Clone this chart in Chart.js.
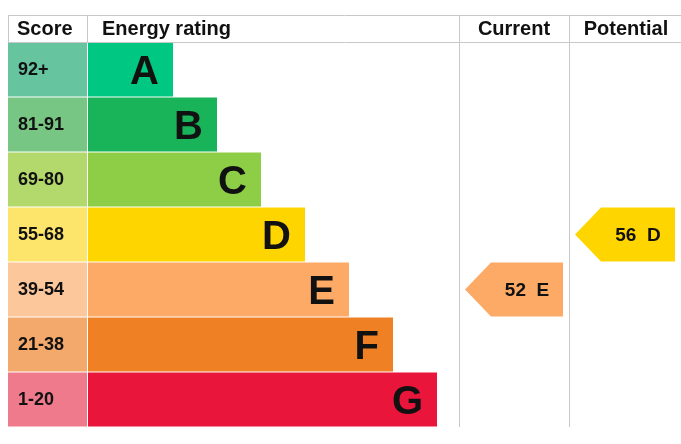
<!DOCTYPE html>
<html><head><meta charset="utf-8">
<script src="https://cdn.jsdelivr.net/npm/chart.js@4"></script>
<style>html,body{margin:0;padding:0;background:#fff}#w{width:681px;height:444px}</style>
</head><body><div id="w"><canvas id="c"></canvas></div>
<script>
const bands = ['A','B','C','D','E','F','G'];
const scoreRanges = ['92+','81-91','69-80','55-68','39-54','21-38','1-20'];
const bandMin = [92,81,69,55,39,21,1];
const barEnds = [165,209,253,297,341,385,429];
const scoreColors = ['#66c59f','#78c684','#b3d86b','#fde56c','#fcc79b','#f4a96c','#ef7a8c'];
const barColors = ['#00c781','#19b459','#8dce46','#ffd500','#fcaa65','#ef8023','#e9153b'];
const currentScore = 52;
const potentialScore = 56;
const colStart = 80, scoreEnd = 79;
const currentCol = [451, 561], potentialCol = [561, 673];

function bandIndex(s){ for(let i=0;i<bandMin.length;i++) if(s>=bandMin[i]) return i; return 6; }
const F = '"Liberation Sans", Arial, sans-serif';

const plug = {
  id:'epc',
  afterDatasetsDraw(ch){
    const ctx=ch.ctx, x=ch.scales.x, y=ch.scales.y;
    const top=15, hb=y.getPixelForValue(0)-27.5, bottom=ch.chartArea.bottom;
    ctx.save();
    ctx.strokeStyle='#c8c8c8'; ctx.lineWidth=1;
    ctx.beginPath();
    ctx.moveTo(x.getPixelForValue(0),top+0.5); ctx.lineTo(681,top+0.5);
    ctx.moveTo(x.getPixelForValue(0),hb+0.5); ctx.lineTo(681,hb+0.5);
    ctx.moveTo(x.getPixelForValue(0)+0.5,top); ctx.lineTo(x.getPixelForValue(0)+0.5,hb);
    ctx.moveTo(x.getPixelForValue(scoreEnd)+0.5,top); ctx.lineTo(x.getPixelForValue(scoreEnd)+0.5,hb);
    [currentCol[0],potentialCol[0]].forEach(v=>{const p=Math.round(x.getPixelForValue(v))+0.5;ctx.moveTo(p,top);ctx.lineTo(p,bottom);});
    ctx.stroke();
    ctx.fillStyle='#111'; ctx.textBaseline='middle';
    ctx.font='bold 20px '+F;
    const hy=(top+hb)/2+1;
    ctx.textAlign='left';
    ctx.fillText('Score',x.getPixelForValue(9),hy);
    ctx.fillText('Energy rating',x.getPixelForValue(94),hy);
    ctx.textAlign='center';
    ctx.fillText('Current',x.getPixelForValue((currentCol[0]+currentCol[1])/2),hy);
    ctx.fillText('Potential',x.getPixelForValue((potentialCol[0]+potentialCol[1])/2)+1,hy);
    bands.forEach((b,i)=>{
      const cy=y.getPixelForValue(i);
      ctx.textAlign='left'; ctx.font='bold 18px '+F;
      ctx.fillText(scoreRanges[i],x.getPixelForValue(10),cy+1);
      ctx.textAlign='right'; ctx.font='bold 40px '+F;
      ctx.fillText(b,x.getPixelForValue(barEnds[i])-14,cy+3);
    });
    [[currentScore,currentCol],[potentialScore,potentialCol]].forEach(([s,col])=>{
      const i=bandIndex(s), cy=y.getPixelForValue(i), h=27;
      const l=x.getPixelForValue(col[0]+6), r=x.getPixelForValue(col[1]-6);
      ctx.fillStyle=barColors[i];
      ctx.beginPath(); ctx.moveTo(l,cy); ctx.lineTo(l+26,cy-h); ctx.lineTo(r,cy-h); ctx.lineTo(r,cy+h); ctx.lineTo(l+26,cy+h); ctx.closePath(); ctx.fill();
      ctx.fillStyle='#111'; ctx.font='bold 19px '+F; ctx.textAlign='center';
      ctx.fillText(s+'  '+bands[i],(l+26+r)/2,cy+1);
    });
    ctx.restore();
  }
};

new Chart(document.getElementById('c'),{
  type:'bar',
  data:{labels:bands,datasets:[
    {data:bands.map(()=>[0,scoreEnd]),backgroundColor:scoreColors,grouped:false},
    {data:barEnds.map(e=>[colStart,e]),backgroundColor:barColors,grouped:false}
  ]},
  options:{
    indexAxis:'y',responsive:true,maintainAspectRatio:false,animation:false,
    layout:{padding:{left:8,right:0,top:42,bottom:17}},
    categoryPercentage:1,barPercentage:0.985,
    plugins:{legend:{display:false},tooltip:{enabled:false}},
    scales:{x:{type:'linear',min:0,max:673,display:false},y:{display:false}}
  },
  plugins:[plug]
});
</script></body></html>
